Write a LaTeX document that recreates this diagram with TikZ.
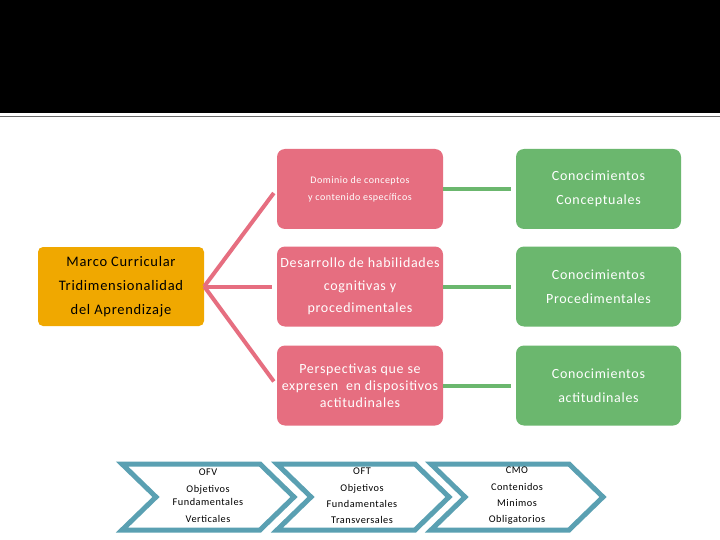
\documentclass[tikz,border=0pt]{standalone}
\usepackage{fontspec}
\setmainfont{Carlito}[LetterSpace=5]
\definecolor{orng}{RGB}{240,168,0}
\definecolor{pnk}{RGB}{230,110,128}
\definecolor{grn}{RGB}{107,183,110}
\definecolor{teal2}{RGB}{90,160,178}
\begin{document}
\begin{tikzpicture}[x=1pt,y=-1pt,
  obox/.style={fill=orng,rounded corners=5pt,minimum width=166pt,minimum height=79pt,align=center,text=black,inner sep=0pt,font=\fontsize{14.5}{24}\selectfont},
  pbox/.style={fill=pnk,rounded corners=8pt,minimum width=166pt,minimum height=80pt,align=center,text=white,inner sep=0pt},
  gbox/.style={fill=grn,rounded corners=8pt,minimum width=165pt,minimum height=80pt,align=center,text=white,inner sep=0pt,font=\fontsize{14}{24}\selectfont},
  pline/.style={draw=pnk,line width=4pt,shorten >=5pt},
  gline/.style={draw=grn,line width=4pt,shorten >=5pt},
  chev/.style={draw=teal2,line width=5pt,fill=white,miter limit=10},
  ctext/.style={align=center,font=\fontsize{10.3}{16}\selectfont,inner sep=0pt}
]
\useasboundingbox (0,0) rectangle (720,540);
\fill[white] (0,0) rectangle (720,540);
\fill[black] (0,0) rectangle (720,113);
\draw[gray!85!black,line width=1.5pt] (0,116.5) -- (720,116.5);

\node[obox] (mc) at (121,286.5) {Marco Curricular\\Tridimensionalidad\\del Aprendizaje};

\node[pbox,font=\fontsize{10}{17}\selectfont] (p1) at (360,189) {Dominio de conceptos\\y contenido específicos};
\node[pbox,font=\fontsize{14}{22.5}\selectfont] (p2) at (360,286.5) {Desarrollo de habilidades\\cognitivas y\\procedimentales};
\node[pbox,font=\fontsize{14}{17}\selectfont] (p3) at (360,385.5) {Perspectivas que se\\expresen \ en dispositivos\\actitudinales};

\node[gbox] (g1) at (598.5,189) {Conocimientos\\Conceptuales};
\node[gbox] (g2) at (598.5,286.5) {Conocimientos\\Procedimentales};
\node[gbox] (g3) at (598.5,385.5) {Conocimientos\\actitudinales};

\draw[pline] (mc.east) -- (p1.west);
\draw[pline] (mc.east) -- (p2.west);
\draw[pline] (mc.east) -- (p3.west);

\draw[gline] (p1.east) -- (g1.west);
\draw[gline] (p2.east) -- (g2.west);
\draw[gline] (p3.east) -- (g3.west);

\foreach \L in {122,277,431}{
  \draw[chev] (\L,464) -- (\L+138,464) -- (\L+172,497) -- (\L+138,530) -- (\L,530) -- (\L+34,497) -- cycle;
}
\node[ctext] (c1) at (208,496) {OFV\\[1pt]Objetivos\\[-3pt]Fundamentales\\[1pt]Verticales};
\node[ctext] (c2) at (362,496) {OFT\\[1pt]Objetivos\\Fundamentales\\Transversales};
\node[ctext] (c3) at (517,496) {CMO\\[1pt]Contenidos\\Minimos\\Obligatorios};
\end{tikzpicture}
\end{document}
